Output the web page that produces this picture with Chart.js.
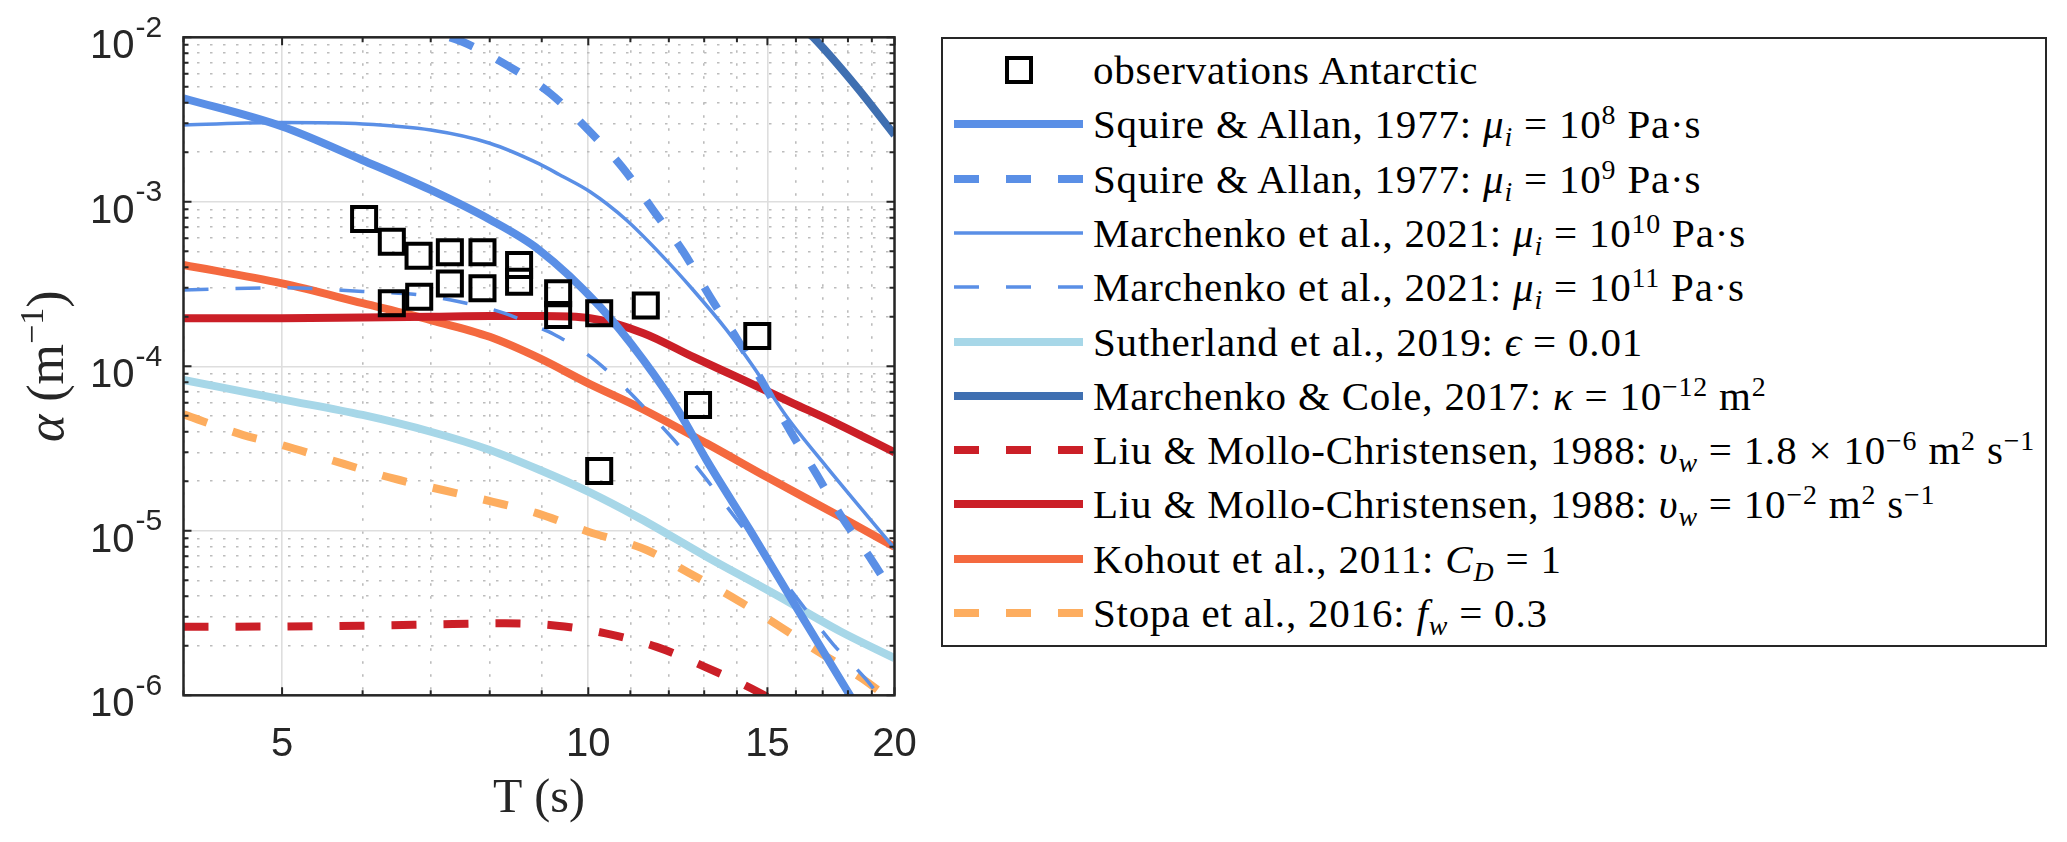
<!DOCTYPE html>
<html>
<head>
<meta charset="utf-8">
<script src="https://cdn.jsdelivr.net/npm/chart.js@4.4.1/dist/chart.umd.min.js"></script>
<style>
  html, body { margin: 0; padding: 0; background: #fff; }
  #wrap { position: relative; width: 2067px; height: 842px; overflow: hidden; }
  #chart { position: absolute; left: 0; top: 0; }
  #legend {
    position: absolute; left: 941px; top: 37px; width: 1106px; height: 610px;
    box-sizing: border-box; border: 2px solid #262626; background: #fff;
    font-family: "Liberation Serif", "DejaVu Serif", serif; font-size: 41px; color: #000;
  }
  .row { position: absolute; left: 0; width: 100%; height: 54px; }
  .row svg { position: absolute; left: 0; top: 0; }
  .row .label { position: absolute; left: 150px; top: 0; height: 54px; line-height: 54px; white-space: nowrap; letter-spacing: 0.8px; }
  .label sup { font-size: 0.68em; vertical-align: 0.5em; line-height: 0; }
  .label sub { font-size: 0.68em; vertical-align: -0.3em; line-height: 0; }
</style>
</head>
<body>
<div id="wrap">
  <canvas id="chart" width="2067" height="842"></canvas>
  <div id="legend"></div>
</div>
<script>
// ---- axes ----
const periodTicks = [4, 5, 6, 7, 8, 9, 10, 11, 12, 13, 14, 15, 16, 17, 18, 19, 20];
const periodLabels = [5, 10, 15, 20];
const alphaDecades = [1e-6, 1e-5, 1e-4, 1e-3, 1e-2];
const alphaExponents = ["-6", "-5", "-4", "-3", "-2"];

// ---- observations (squares) ----
const obsPeriod = [6.02, 6.41, 6.81, 7.31, 7.87, 8.55, 8.55, 7.31, 7.87, 6.82, 6.41, 9.34, 9.34, 10.25, 11.39, 14.66, 12.82, 10.25];
const obsAlpha = [7.86e-4, 5.72e-4, 4.70e-4, 4.93e-4, 4.93e-4, 4.13e-4, 3.27e-4, 3.19e-4, 2.98e-4, 2.65e-4, 2.42e-4, 2.78e-4, 2.05e-4, 2.10e-4, 2.34e-4, 1.53e-4, 5.82e-5, 2.31e-5];

// ---- model curves ----
const squire8Period = [4, 5, 6, 7, 8, 8.95, 10.27, 11.33, 12.3, 13.07, 14.42, 16.15, 18.08, 20];
const squire8Alpha = [4.26e-3, 2.87e-3, 1.79e-3, 1.18e-3, 7.8e-4, 5.09e-4, 2.3e-4, 1.09e-4, 5.2e-5, 2.69e-5, 1.01e-5, 3.15e-6, 1.0e-6, 3.5e-7];

const squire9Period = [7.0, 7.52, 8.34, 9.17, 10.0, 10.82, 11.58, 12.4, 13.17, 13.99, 14.69, 15.81, 16.74, 17.74, 18.99, 20];
const squire9Alpha = [1.08e-2, 9.4e-3, 6.7e-3, 4.57e-3, 2.73e-3, 1.6e-3, 8.9e-4, 4.97e-4, 2.65e-4, 1.48e-4, 8.9e-5, 4.0e-5, 2.24e-5, 1.22e-5, 6.65e-6, 4.0e-6];

const marchenko10Period = [4, 5, 6, 7, 8, 8.95, 9.37, 10.04, 10.9, 11.76, 12.68, 13.68, 14.53, 15.67, 17.15, 20];
const marchenko10Alpha = [2.93e-3, 3.03e-3, 2.97e-3, 2.73e-3, 2.27e-3, 1.7e-3, 1.46e-3, 1.15e-3, 7.75e-4, 4.86e-4, 2.91e-4, 1.66e-4, 9.94e-5, 4.94e-5, 2.45e-5, 7.83e-6];

const marchenko11Period = [4, 5, 6, 6.84, 7.47, 8.28, 8.9, 9.24, 10.15, 12.02, 12.97, 13.88, 15.8, 17.4, 18.71, 20];
const marchenko11Alpha = [2.91e-4, 3.0e-4, 2.85e-4, 2.71e-4, 2.47e-4, 2.1e-4, 1.74e-4, 1.57e-4, 1.09e-4, 3.82e-5, 2.18e-5, 1.25e-5, 4.4e-6, 2.05e-6, 1.27e-6, 7.5e-7];

const sutherlandPeriod = [4, 5, 6, 7, 8, 8.95, 10, 11.24, 13.07, 15.2, 17.68, 20];
const sutherlandAlpha = [8.26e-5, 6.3e-5, 5.06e-5, 4.0e-5, 3.1e-5, 2.35e-5, 1.73e-5, 1.19e-5, 6.96e-6, 4.17e-6, 2.45e-6, 1.68e-6];

const colePeriod = [16.5, 16.64, 18.29, 20];
const coleAlpha = [1.05e-2, 1.0e-2, 5.13e-3, 2.55e-3];

const liuLowPeriod = [4, 5, 6, 7.36, 8.28, 9.31, 10.4, 11.67, 13.02, 14.47, 16];
const liuLowAlpha = [2.61e-6, 2.62e-6, 2.65e-6, 2.71e-6, 2.74e-6, 2.65e-6, 2.38e-6, 1.97e-6, 1.49e-6, 1.10e-6, 7.8e-7];

const liuHighPeriod = [4, 5, 6, 7, 8, 9, 10.04, 11.33, 12.68, 14.2, 15.9, 17.41, 20];
const liuHighAlpha = [1.96e-4, 1.96e-4, 1.98e-4, 2.0e-4, 2.02e-4, 2.02e-4, 1.96e-4, 1.59e-4, 1.14e-4, 8.26e-5, 5.96e-5, 4.6e-5, 3.0e-5];

const kohoutPeriod = [4, 5, 6, 7, 8, 8.95, 10, 11.24, 13.07, 15.03, 17.68, 20];
const kohoutAlpha = [4.13e-4, 3.19e-4, 2.42e-4, 1.91e-4, 1.51e-4, 1.12e-4, 7.88e-5, 5.6e-5, 3.4e-5, 2.1e-5, 1.22e-5, 8.0e-6];

const stopaPeriod = [4, 4.58, 5.0, 5.75, 6.43, 7.19, 8.06, 8.9, 10, 11.41, 12.5, 13.83, 15.26, 16.83, 18.57, 20];
const stopaAlpha = [5.1e-5, 3.82e-5, 3.32e-5, 2.55e-5, 2.08e-5, 1.77e-5, 1.5e-5, 1.28e-5, 9.88e-6, 7.64e-6, 5.64e-6, 3.97e-6, 2.74e-6, 1.84e-6, 1.27e-6, 9e-7];

const legendLabels = [
  "observations Antarctic",
  "Squire &amp; Allan, 1977: <i>μ<sub>i</sub></i> = 10<sup>8</sup> Pa·s",
  "Squire &amp; Allan, 1977: <i>μ<sub>i</sub></i> = 10<sup>9</sup> Pa·s",
  "Marchenko et al., 2021: <i>μ<sub>i</sub></i> = 10<sup>10</sup> Pa·s",
  "Marchenko et al., 2021: <i>μ<sub>i</sub></i> = 10<sup>11</sup> Pa·s",
  "Sutherland et al., 2019: <i>ϵ</i> = 0.01",
  "Marchenko &amp; Cole, 2017: <i>κ</i> = 10<sup>−12</sup> m<sup>2</sup>",
  "Liu &amp; Mollo-Christensen, 1988: <i>υ<sub>w</sub></i> = 1.8 × 10<sup>−6</sup> m<sup>2</sup> s<sup>−1</sup>",
  "Liu &amp; Mollo-Christensen, 1988: <i>υ<sub>w</sub></i> = 10<sup>−2</sup> m<sup>2</sup> s<sup>−1</sup>",
  "Kohout et al., 2011: <i>C<sub>D</sub></i> = 1",
  "Stopa et al., 2016: <i>f<sub>w</sub></i> = 0.3",
];

const palette = {
  blue: "#5A8FE6",
  darkBlue: "#3F6FB1",
  lightBlue: "#A7D7E8",
  red: "#CB1F27",
  orange: "#F4693F",
  lightOrange: "#FDAD5F",
  axis: "#262626",
};

const thick = 8;
const thin = 3.5;
const dashed = [25, 27];

function points(xs, ys) {
  return xs.map((x, i) => ({ x: x, y: ys[i] }));
}

function plain(html) {
  const d = document.createElement("div");
  d.innerHTML = html;
  return d.textContent;
}

function curve(index, xs, ys, color, width, dash, dashOffset) {
  return {
    label: plain(legendLabels[index]),
    data: points(xs, ys),
    showLine: true,
    borderColor: color,
    backgroundColor: color,
    borderWidth: width,
    borderDash: dash || [],
    borderDashOffset: dashOffset || 0,
    borderCapStyle: "butt",
    pointRadius: 0,
    pointHoverRadius: 0,
    cubicInterpolationMode: "monotone",
    clip: 0,
  };
}

const datasets = [
  {
    label: plain(legendLabels[0]),
    data: points(obsPeriod, obsAlpha),
    showLine: false,
    pointStyle: "rect",
    pointRadius: 17,
    pointHoverRadius: 17,
    pointBorderWidth: 4,
    pointBorderColor: "#000",
    pointBackgroundColor: "rgba(0,0,0,0)",
    borderColor: "#000",
    backgroundColor: "rgba(0,0,0,0)",
  },
  curve(1, squire8Period, squire8Alpha, palette.blue, thick),
  curve(2, squire9Period, squire9Alpha, palette.blue, thick, dashed, 32),
  curve(3, marchenko10Period, marchenko10Alpha, palette.blue, thin),
  curve(4, marchenko11Period, marchenko11Alpha, palette.blue, thin, dashed),
  curve(5, sutherlandPeriod, sutherlandAlpha, palette.lightBlue, thick),
  curve(6, colePeriod, coleAlpha, palette.darkBlue, thick),
  curve(7, liuLowPeriod, liuLowAlpha, palette.red, thick, dashed),
  curve(8, liuHighPeriod, liuHighAlpha, palette.red, thick),
  curve(9, kohoutPeriod, kohoutAlpha, palette.orange, thick),
  curve(10, stopaPeriod, stopaAlpha, palette.lightOrange, thick, dashed),
];

const plotBox = { top: 37.3, right: 894.5, bottom: 695.3, left: 183.5 };

function isDecade(v) {
  const l = Math.log10(v);
  return Math.abs(l - Math.round(l)) < 1e-6;
}

function gridColor(major) {
  return major ? "#dedede" : "#bcbcbc";
}

// inward ticks, box frame, y tick labels and axis titles
const matlabAxes = {
  id: "matlabAxes",
  afterDatasetsDraw(chart) {
    const { ctx, chartArea: a, scales } = chart;
    ctx.save();
    ctx.strokeStyle = palette.axis;
    ctx.lineWidth = 2;
    scales.x.ticks.forEach((t) => {
      const px = scales.x.getPixelForValue(t.value);
      const len = periodLabels.includes(t.value) ? 8 : 5;
      ctx.beginPath();
      ctx.moveTo(px, a.bottom); ctx.lineTo(px, a.bottom - len);
      ctx.moveTo(px, a.top); ctx.lineTo(px, a.top + len);
      ctx.stroke();
    });
    scales.y.ticks.forEach((t) => {
      const py = scales.y.getPixelForValue(t.value);
      const len = isDecade(t.value) ? 8 : 5;
      ctx.beginPath();
      ctx.moveTo(a.left, py); ctx.lineTo(a.left + len, py);
      ctx.moveTo(a.right, py); ctx.lineTo(a.right - len, py);
      ctx.stroke();
    });
    ctx.lineWidth = 2.5;
    ctx.strokeRect(a.left, a.top, a.right - a.left, a.bottom - a.top);
    ctx.restore();
  },
  afterDraw(chart) {
    const { ctx, chartArea: a, scales } = chart;
    ctx.save();
    ctx.fillStyle = palette.axis;
    ctx.textBaseline = "middle";
    alphaDecades.forEach((v, i) => {
      const py = scales.y.getPixelForValue(v);
      ctx.font = '40px "Liberation Sans", Arial, sans-serif';
      ctx.textAlign = "right";
      ctx.fillText("10", a.left - 49, py + 10);
      ctx.font = '30px "Liberation Sans", Arial, sans-serif';
      ctx.textAlign = "left";
      ctx.fillText(alphaExponents[i], a.left - 48, py - 9);
    });

    // x title
    ctx.textBaseline = "alphabetic";
    ctx.textAlign = "center";
    ctx.font = '48px "Liberation Serif", "Times New Roman", serif';
    ctx.fillText("T (s)", (a.left + a.right) / 2, 812);

    // y title, rotated
    const pieces = [
      { t: "α", f: 'italic 52px "Liberation Serif", serif', dy: 0 },
      { t: " (m", f: '52px "Liberation Serif", serif', dy: 0 },
      { t: "−1", f: '34px "Liberation Serif", serif', dy: -20 },
      { t: ")", f: '52px "Liberation Serif", serif', dy: 0 },
    ];
    let total = 0;
    pieces.forEach((p) => { ctx.font = p.f; p.w = ctx.measureText(p.t).width; total += p.w; });
    ctx.translate(50, (a.top + a.bottom) / 2);
    ctx.rotate(-Math.PI / 2);
    ctx.textAlign = "left";
    let x0 = -total / 2;
    pieces.forEach((p) => {
      ctx.font = p.f;
      ctx.fillText(p.t, x0, 13 + p.dy);
      x0 += p.w;
    });
    ctx.restore();
  },
};

new Chart(document.getElementById("chart"), {
  type: "scatter",
  data: { datasets: datasets },
  options: {
    responsive: false,
    animation: false,
    events: [],
    layout: { padding: { left: 0, top: plotBox.top, right: 2067 - plotBox.right, bottom: 0 } },
    plugins: { legend: { display: false }, tooltip: { enabled: false } },
    scales: {
      x: {
        type: "logarithmic",
        min: 4,
        max: 20,
        afterBuildTicks: (s) => { s.ticks = periodTicks.map((v) => ({ value: v })); },
        afterFit: (s) => { s.height = 842 - plotBox.bottom; },
        grid: {
          drawTicks: false,
          lineWidth: 1.6,
          color: (c) => gridColor(periodLabels.includes(c.tick && c.tick.value)),
        },
        border: {
          display: false,
          dash: (c) => (periodLabels.includes(c.tick && c.tick.value) ? [] : [2.5, 10.5]),
        },
        ticks: {
          autoSkip: false,
          maxRotation: 0,
          padding: 26,
          color: palette.axis,
          font: { family: '"Liberation Sans", Arial, sans-serif', size: 40 },
          callback: (v) => (periodLabels.includes(v) ? String(v) : ""),
        },
      },
      y: {
        type: "logarithmic",
        min: 1e-6,
        max: 1e-2,
        afterBuildTicks: (s) => {
          const list = [];
          alphaDecades.forEach((d, i) => {
            const steps = i < alphaDecades.length - 1 ? [1, 2, 3, 4, 5, 6, 7, 8, 9] : [1];
            steps.forEach((m) => list.push({ value: +(d * m).toPrecision(3) }));
          });
          s.ticks = list;
        },
        afterFit: (s) => { s.width = plotBox.left; },
        grid: {
          drawTicks: false,
          lineWidth: 1.6,
          color: (c) => gridColor(c.tick && isDecade(c.tick.value)),
        },
        border: {
          display: false,
          dash: (c) => (c.tick && isDecade(c.tick.value) ? [] : [2.5, 10.5]),
        },
        ticks: { display: false },
      },
    },
  },
  plugins: [matlabAxes],
});

// legend box (HTML so the math text stays real text)
function renderLegend() {
  const box = document.getElementById("legend");
  const firstCenter = 70, step = 54.3;
  datasets.forEach((ds, i) => {
    const row = document.createElement("div");
    row.className = "row";
    row.style.top = (firstCenter + i * step - 37 - 2 - 27) + "px";
    const ns = "http://www.w3.org/2000/svg";
    const svg = document.createElementNS(ns, "svg");
    svg.setAttribute("width", "150");
    svg.setAttribute("height", "54");
    if (i === 0) {
      const r = document.createElementNS(ns, "rect");
      r.setAttribute("x", 64); r.setAttribute("y", 15);
      r.setAttribute("width", 24); r.setAttribute("height", 24);
      r.setAttribute("fill", "none"); r.setAttribute("stroke", "#000");
      r.setAttribute("stroke-width", 4);
      svg.appendChild(r);
    } else {
      const l = document.createElementNS(ns, "line");
      l.setAttribute("x1", 11); l.setAttribute("x2", 140);
      l.setAttribute("y1", 27); l.setAttribute("y2", 27);
      l.setAttribute("stroke", ds.borderColor);
      l.setAttribute("stroke-width", ds.borderWidth);
      if (ds.borderDash.length) l.setAttribute("stroke-dasharray", ds.borderDash.join(" "));
      svg.appendChild(l);
    }
    const label = document.createElement("span");
    label.className = "label";
    label.innerHTML = legendLabels[i];
    row.append(svg, label);
    box.appendChild(row);
  });
}
renderLegend();
</script>
</body>
</html>
